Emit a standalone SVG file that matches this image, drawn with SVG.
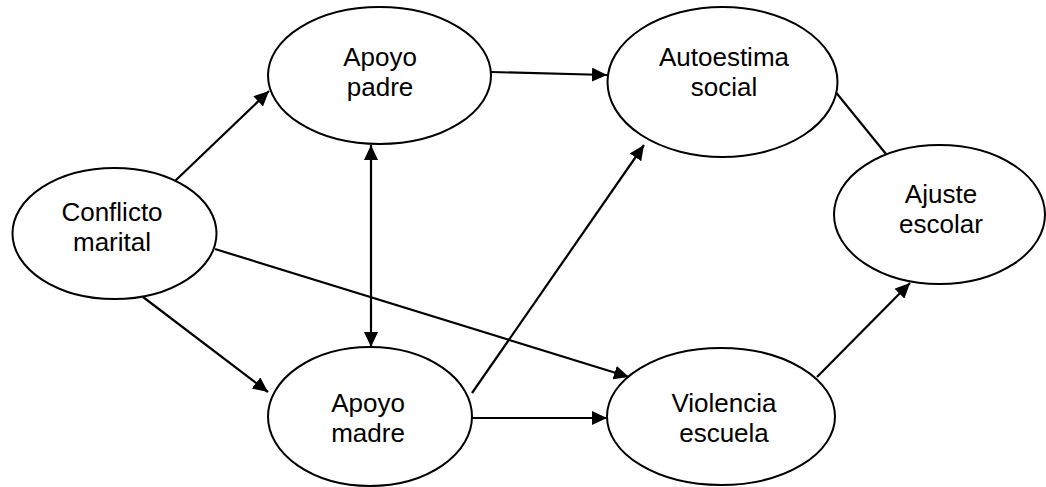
<svg xmlns="http://www.w3.org/2000/svg" width="1046" height="487" viewBox="0 0 1046 487">
  <style>
    .node ellipse { fill: #ffffff; stroke: #000000; stroke-width: 2; }
    .node text { font-family: "Liberation Sans", Arial, sans-serif; font-size: 26px; fill: #000000; text-anchor: middle; }
    .edge { stroke: #000000; stroke-width: 2.2; fill: none; }
    .arrow { marker-end: url(#head); }
    .both { marker-start: url(#tail); marker-end: url(#head); }
  </style>
  <defs>
    <marker id="head" markerUnits="userSpaceOnUse" markerWidth="16" markerHeight="14" refX="15" refY="7" orient="auto">
      <path d="M0,0 L15,7 L0,14 Z" fill="#000000"/>
    </marker>
    <marker id="tail" markerUnits="userSpaceOnUse" markerWidth="16" markerHeight="14" refX="0" refY="7" orient="auto">
      <path d="M15,0 L0,7 L15,14 Z" fill="#000000"/>
    </marker>
  </defs>
  <rect width="1046" height="487" fill="#ffffff"/>

  <g id="connectors">
    <line class="edge arrow" x1="175" y1="181" x2="269" y2="91"/>
    <line class="edge arrow" x1="143" y1="297" x2="268" y2="392"/>
    <line class="edge arrow" x1="215" y1="249" x2="629" y2="377"/>
    <line class="edge arrow" x1="491" y1="72" x2="607" y2="75"/>
    <line class="edge both" x1="371" y1="145" x2="371" y2="347"/>
    <line class="edge arrow" x1="472" y1="393" x2="644" y2="145"/>
    <line class="edge arrow" x1="472" y1="418" x2="607" y2="418"/>
    <line class="edge arrow" x1="817" y1="377" x2="910" y2="283"/>
    <line class="edge" x1="834" y1="90" x2="886" y2="154"/>
  </g>

  <g id="conflicto-marital" class="node">
    <ellipse cx="114.5" cy="233.5" rx="102" ry="65.5"/>
    <text x="112" y="221">Conflicto</text>
    <text x="112" y="251">marital</text>
  </g>

  <g id="apoyo-padre" class="node">
    <ellipse cx="379.5" cy="75.5" rx="111.5" ry="68.5"/>
    <text x="380" y="66">Apoyo</text>
    <text x="380" y="96">padre</text>
  </g>

  <g id="autoestima-social" class="node">
    <ellipse cx="722.5" cy="82" rx="115" ry="75"/>
    <text x="724" y="66">Autoestima</text>
    <text x="724" y="96">social</text>
  </g>

  <g id="ajuste-escolar" class="node">
    <ellipse cx="939.5" cy="214.5" rx="105.5" ry="69.5"/>
    <text x="941" y="203">Ajuste</text>
    <text x="941" y="233">escolar</text>
  </g>

  <g id="apoyo-madre" class="node">
    <ellipse cx="370" cy="416.5" rx="102" ry="69.5"/>
    <text x="368" y="412">Apoyo</text>
    <text x="368" y="442">madre</text>
  </g>

  <g id="violencia-escuela" class="node">
    <ellipse cx="721" cy="416.5" rx="114" ry="68.5"/>
    <text x="724" y="412">Violencia</text>
    <text x="724" y="442">escuela</text>
  </g>
</svg>
